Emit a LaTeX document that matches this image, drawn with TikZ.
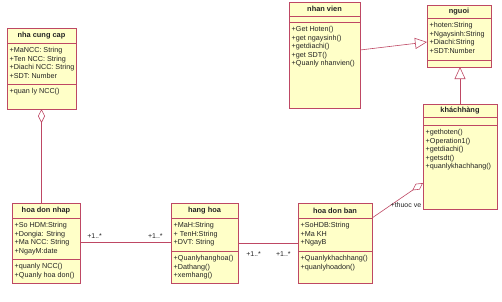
\documentclass[tikz,border=0pt]{standalone}
\usepackage{fontspec}
\setmainfont{Liberation Sans}
\usetikzlibrary{arrows.meta,positioning,backgrounds}
\definecolor{umlline}{RGB}{190,72,100}
\definecolor{umlfill}{RGB}{255,255,200}
\definecolor{umltext}{RGB}{35,35,35}
\tikzset{
  classname/.style={draw=umlline,fill=umlfill,line width=0.8pt,outer sep=0pt,inner sep=0pt,anchor=north west,text=umltext,font=\fontsize{7.4}{8.4}\selectfont\bfseries},
  classpart/.style={draw=umlline,fill=umlfill,line width=0.8pt,outer sep=0pt,inner sep=0pt,below=0pt of #1},
  members/.style={anchor=north west,align=left,inner xsep=2.5pt,inner ysep=4.5pt,text=umltext,font=\fontsize{7.2}{8.4}\selectfont},
  mult/.style={inner sep=1pt,text=umltext,font=\fontsize{7}{8}\selectfont},
  assoc/.style={draw=umlline,line width=0.6pt},
  aggr/.style={-{Diamond[open,length=13pt,width=7pt]}},
  inherit/.style={-{Triangle[open,length=12pt,width=11pt]}}
}
\begin{document}
\begin{tikzpicture}[x=1pt,y=-1pt]
  \useasboundingbox (0,0) rectangle (502,301);
  % nha cung cap
  \node[classname,minimum width=69pt,minimum height=15pt] (ncc) at (7,28) {nha cung cap};
  \node[classpart=ncc,minimum width=69pt,minimum height=41pt] (ncc-a) {};
  \node[classpart=ncc-a,minimum width=69pt,minimum height=25pt] (ncc-o) {};
  \node[members] at (ncc-a.north west) {+MaNCC: String\\+Ten NCC: String\\+Diachi NCC: String\\+SDT: Number};
  \node[members] at (ncc-o.north west) {+quan ly NCC()};
  % nhan vien
  \node[classname,minimum width=71pt,minimum height=14pt] (nv) at (289,2) {nhan vien};
  \node[classpart=nv,minimum width=71pt,minimum height=6pt] (nv-a) {};
  \node[classpart=nv-a,minimum width=71pt,minimum height=86pt] (nv-o) {};
  \node[members] at (nv-o.north west) {+Get Hoten()\\+get ngaysinh()\\+getdiachi()\\+get SDT()\\+Quanly nhanvien()};
  % nguoi
  \node[classname,minimum width=64pt,minimum height=13pt] (nguoi) at (427,5) {nguoi};
  \node[classpart=nguoi,minimum width=64pt,minimum height=42pt] (nguoi-a) {};
  \node[classpart=nguoi-a,minimum width=64pt,minimum height=7pt] (nguoi-o) {};
  \node[members] at (nguoi-a.north west) {+hoten:String\\+Ngaysinh:String\\+Diachi:String\\+SDT:Number};
  % khach hang
  \node[classname,minimum width=74pt,minimum height=13pt] (kh) at (423,104) {kháchhàng};
  \node[classpart=kh,minimum width=74pt,minimum height=8pt] (kh-a) {};
  \node[classpart=kh-a,minimum width=74pt,minimum height=84pt] (kh-o) {};
  \node[members] at (kh-o.north west) {+gethoten()\\+Operation1()\\+getdiachi()\\+getsdt()\\+quanlykhachhang()};
  % hoa don nhap
  \node[classname,minimum width=68pt,minimum height=15pt] (hdn) at (12,203) {hoa don nhap};
  \node[classpart=hdn,minimum width=68pt,minimum height=41pt] (hdn-a) {};
  \node[classpart=hdn-a,minimum width=68pt,minimum height=24pt] (hdn-o) {};
  \node[members] at (hdn-a.north west) {+So HDM:String\\+Dongia: String\\+Ma NCC: String\\+NgayM:date};
  \node[members] at (hdn-o.north west) {+quanly NCC()\\+Quanly hoa don()};
  % hang hoa
  \node[classname,minimum width=67pt,minimum height=15pt] (hh) at (171,203) {hang hoa};
  \node[classpart=hh,minimum width=67pt,minimum height=33pt] (hh-a) {};
  \node[classpart=hh-a,minimum width=67pt,minimum height=32pt] (hh-o) {};
  \node[members] at (hh-a.north west) {+MaH:String\\+ TenH:String\\+DVT: String};
  \node[members] at (hh-o.north west) {+Quanlyhanghoa()\\+Dathang()\\+xemhang()};
  % hoa don ban
  \node[classname,minimum width=74pt,minimum height=15pt] (hdb) at (298,203) {hoa don ban};
  \node[classpart=hdb,minimum width=74pt,minimum height=33pt] (hdb-a) {};
  \node[classpart=hdb-a,minimum width=74pt,minimum height=32pt] (hdb-o) {};
  \node[members] at (hdb-a.north west) {+SoHDB:String\\+Ma KH\\+NgayB};
  \node[members] at (hdb-o.north west) {+Quanlykhachhang()\\+quanlyhoadon()};
  % lien ket
  \begin{scope}[on background layer]
    \draw[assoc,{Diamond[open,length=14pt,width=7pt]}-] (ncc-o.south) -- (ncc-o.south |- hdn.north);
    \draw[assoc] ([yshift=-24pt]hdn-a.north east) --
      node[mult,pos=0,above right,xshift=6pt,yshift=2pt] {+1..*}
      node[mult,pos=1,above left,xshift=-7pt,yshift=2pt] {+1..*} ([yshift=-24pt]hh-a.north west);
    \draw[assoc] ([yshift=-25pt]hh-a.north east) --
      node[mult,pos=0,below right,xshift=7pt,yshift=-7pt] {+1..*}
      node[mult,pos=1,below left,xshift=-6pt,yshift=-7pt] {+1..*} ([yshift=-25pt]hdb-a.north west);
    \draw[assoc,aggr] (hdb.south east) --
      node[mult,pos=0.36,anchor=west,inner sep=0pt] {+thuoc ve} ([yshift=-58pt]kh-o.north west);
    \draw[assoc,inherit] ([yshift=-28pt]nv-o.north east) -- ([yshift=-24pt]nguoi-a.north west);
    \draw[assoc,inherit] (kh.north) -- (kh.north |- nguoi-o.south);
  \end{scope}
\end{tikzpicture}
\end{document}
